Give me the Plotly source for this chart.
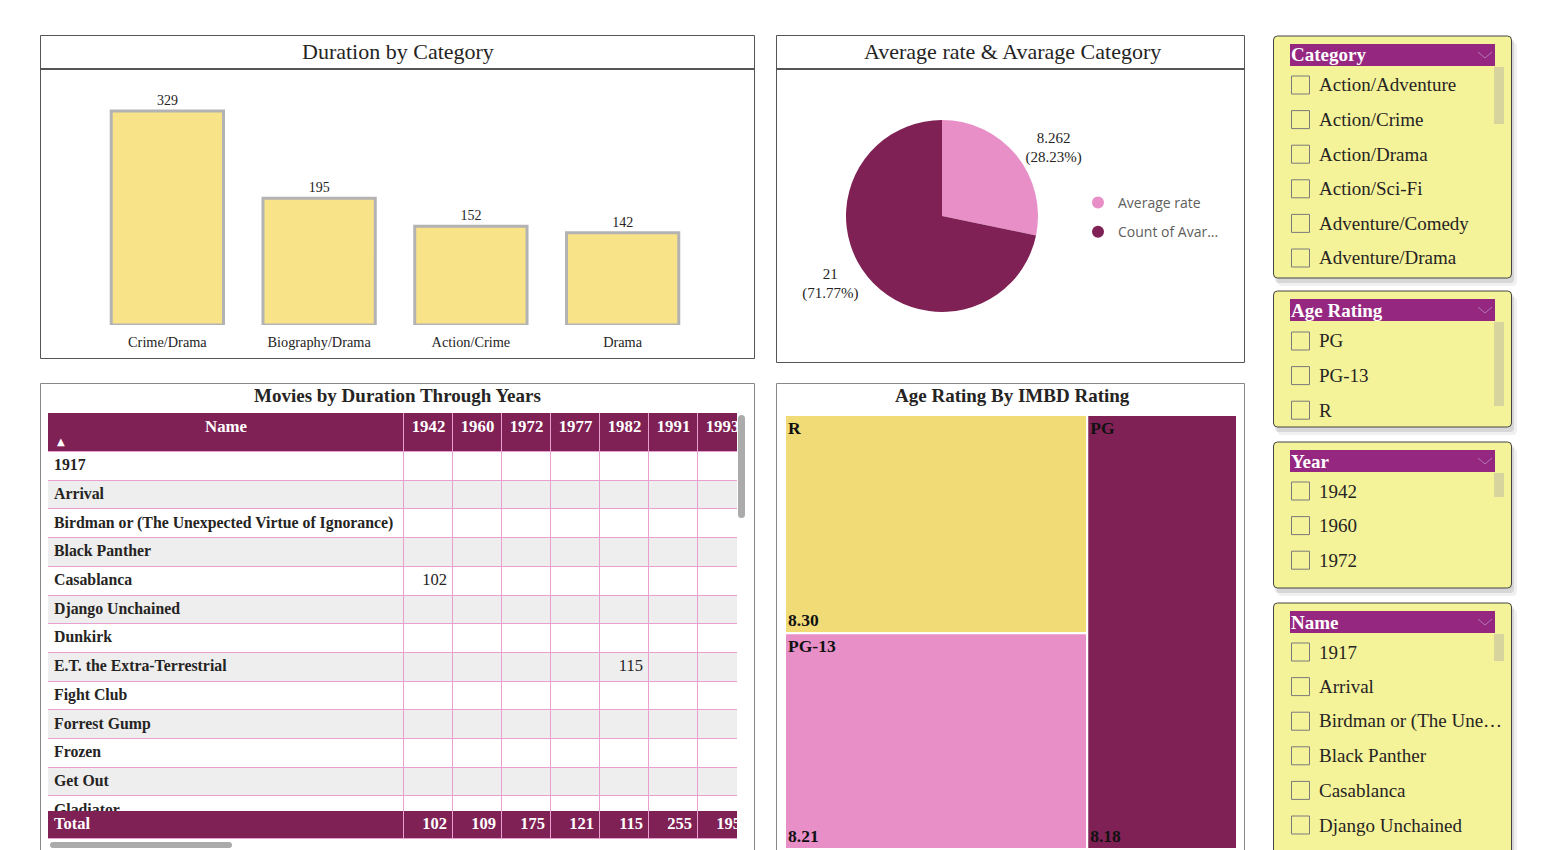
import plotly.graph_objects as go

W, H = 1547, 850
SERIF = "Liberation Serif, Times New Roman, serif"
SANS = "Open Sans, Noto Sans, sans-serif"

# ---------------- data ----------------
bar_categories = ["Crime/Drama", "Biography/Drama", "Action/Crime", "Drama"]
bar_durations = [329, 195, 152, 142]

pie_labels = ["Average rate", "Count of Avarage Category"]
pie_legend_names = ["Average rate", "Count of Avar..."]
pie_values = [8.262, 21]

table_names = ["1917", "Arrival", "Birdman or (The Unexpected Virtue of Ignorance)",
               "Black Panther", "Casablanca", "Django Unchained", "Dunkirk",
               "E.T. the Extra-Terrestrial", "Fight Club", "Forrest Gump", "Frozen",
               "Get Out", "Gladiator"]
table_years = ["1942", "1960", "1972", "1977", "1982", "1991", "1993"]
cell_movies = ["Casablanca", "E.T. the Extra-Terrestrial"]
cell_years = ["1942", "1982"]
cell_durations = [102, 115]
table_totals = [102, 109, 175, 121, 115, 255, 195]

age_ratings = ["R", "PG-13", "PG"]
avg_imdb = [8.30, 8.21, 8.18]

slicer_category = ["Action/Adventure", "Action/Crime", "Action/Drama", "Action/Sci-Fi",
                   "Adventure/Comedy", "Adventure/Drama"]
slicer_age = ["PG", "PG-13", "R"]
slicer_year = ["1942", "1960", "1972"]
slicer_name = ["1917", "Arrival", "Birdman or (The Une…", "Black Panther", "Casablanca",
               "Django Unchained"]

# ---------------- helpers ----------------
def X(px):
    return px / W

def Y(py):
    return 1 - py / H

PURPLE = "#7F2155"
PINK = "#E88FC7"
TXT = "#252423"

fig = go.Figure()

# ---- bar chart ----
fig.add_trace(go.Bar(
    x=bar_categories, y=bar_durations, width=0.74,
    marker=dict(color="#F8E388", line=dict(color="#B3B3B3", width=3)),
    text=bar_durations, textposition="outside", cliponaxis=False,
    textfont=dict(family=SERIF, size=14, color=TXT),
    xaxis="x", yaxis="y", showlegend=False))

# ---- pie ----
fig.add_trace(go.Pie(
    labels=pie_labels, values=pie_values, sort=False, direction="clockwise", rotation=0,
    marker=dict(colors=[PINK, PURPLE]), textposition="outside",
    texttemplate="%{value}<br>(%{percent:.2%})",
    textfont=dict(family=SERIF, size=15, color=TXT),
    domain=dict(x=[X(846), X(1038)], y=[Y(312), Y(120)]), showlegend=False))

for i, (nm, col) in enumerate(zip(pie_legend_names, [PINK, PURPLE])):
    fig.add_trace(go.Scatter(x=[None], y=[None], mode="markers", name=nm,
                             marker=dict(color=col, size=12, symbol="circle"),
                             legendgroup=f"g{i}", xaxis="x", yaxis="y"))

# ---- table (heatmap grid + text through axis scales) ----
col_px = [356] + [49] * len(table_years)
HEAD_H, ROW_H, PADX = 39, 28.7, 6
col_edges = [0]
for w in col_px:
    col_edges.append(col_edges[-1] + w)
row_edges = [0, HEAD_H] + [HEAD_H + ROW_H * (k + 1) for k in range(len(table_names))]
z = [[2] * len(col_px)] + [[i % 2] * len(col_px) for i in range(len(table_names))]
cscale = [[0, "#FFFFFF"], [0.25, "#FFFFFF"], [0.25, "#EEEEEE"], [0.75, "#EEEEEE"],
          [0.75, PURPLE], [1, PURPLE]]
fig.add_trace(go.Heatmap(x=col_edges, y=row_edges, z=z, colorscale=cscale, zmin=0, zmax=2,
                         showscale=False, xgap=1, ygap=1, hoverinfo="skip",
                         xaxis="x2", yaxis="y2"))
centers = [(col_edges[i] + col_edges[i + 1]) / 2 for i in range(len(col_px))]
fig.add_trace(go.Scatter(
    x=centers, y=[15] * len(centers), mode="text",
    text=["<b>Name</b>"] + [f"<b>{y}</b>" for y in table_years],
    textposition="middle center", textfont=dict(family=SERIF, size=16.8, color="white"),
    cliponaxis=True, hoverinfo="skip", showlegend=False, xaxis="x2", yaxis="y2"))
row_centers = [HEAD_H + ROW_H * (k + 0.5) for k in range(len(table_names))]
fig.add_trace(go.Scatter(
    x=[PADX] * len(table_names), y=row_centers, mode="text",
    text=[f"<b>{n}</b>" for n in table_names], textposition="middle right",
    textfont=dict(family=SERIF, size=15.8, color=TXT),
    cliponaxis=True, hoverinfo="skip", showlegend=False, xaxis="x2", yaxis="y2"))
num_x, num_y = [], []
for m, cy in zip(cell_movies, cell_years):
    ci = table_years.index(cy) + 1
    num_x.append(col_edges[ci + 1] - PADX)
    num_y.append(row_centers[table_names.index(m)])
fig.add_trace(go.Scatter(
    x=num_x, y=num_y, mode="text", text=[str(d) for d in cell_durations],
    textposition="middle left", textfont=dict(family=SERIF, size=16.5, color=TXT),
    cliponaxis=True, hoverinfo="skip", showlegend=False, xaxis="x2", yaxis="y2"))

# total row
fig.add_trace(go.Heatmap(x=col_edges, y=[0, 1], z=[[2] * len(col_px)], colorscale=cscale,
                         zmin=0, zmax=2, showscale=False, xgap=1, ygap=0, hoverinfo="skip",
                         xaxis="x3", yaxis="y3"))
fig.add_trace(go.Scatter(
    x=[PADX], y=[0.5], mode="text", text=["<b>Total</b>"], textposition="middle right",
    textfont=dict(family=SERIF, size=16.5, color="white"),
    cliponaxis=True, hoverinfo="skip", showlegend=False, xaxis="x3", yaxis="y3"))
fig.add_trace(go.Scatter(
    x=[col_edges[i + 2] - PADX for i in range(len(table_totals))], y=[0.5] * len(table_totals),
    mode="text", text=[f"<b>{t}</b>" for t in table_totals], textposition="middle left",
    textfont=dict(family=SERIF, size=16.5, color="white"),
    cliponaxis=True, hoverinfo="skip", showlegend=False, xaxis="x3", yaxis="y3"))

# ---- treemap (labels top-left) + overlay (values bottom-left) ----
tm_dom = dict(x=[X(785), X(1237)], y=[Y(849), Y(415)])
fig.add_trace(go.Treemap(
    labels=age_ratings, parents=[""] * len(age_ratings), values=avg_imdb, sort=True,
    marker=dict(colors=["#F0DB77", PINK, PURPLE], line=dict(color="white", width=2),
                pad=dict(t=0, l=0, r=0, b=0)),
    texttemplate="<b>%{label}</b>", textposition="top left",
    textfont=dict(family=SERIF, size=17.5, color="#111"),
    domain=tm_dom, pathbar=dict(visible=False), tiling=dict(pad=0)))
fig.add_trace(go.Treemap(
    labels=age_ratings, parents=[""] * len(age_ratings), values=avg_imdb, sort=True,
    marker=dict(colors=["rgba(0,0,0,0)"] * 3, line=dict(color="rgba(0,0,0,0)", width=2),
                pad=dict(t=0, l=0, r=0, b=0)),
    texttemplate="<b>%{value:.2f}</b>", textposition="bottom left",
    textfont=dict(family=SERIF, size=17.5, color="#111"),
    domain=tm_dom, pathbar=dict(visible=False), tiling=dict(pad=0), hoverinfo="skip"))

# ---------------- layout shapes / annotations ----------------
shapes = []
annotations = []

def rect(x0, y0, x1, y1, **kw):
    d = dict(type="rect", xref="paper", yref="paper", x0=X(x0), x1=X(x1), y0=Y(y0), y1=Y(y1))
    d.update(kw)
    shapes.append(d)

def line(x0, y0, x1, y1, color, width):
    shapes.append(dict(type="line", xref="paper", yref="paper", x0=X(x0), x1=X(x1),
                       y0=Y(y0), y1=Y(y1), line=dict(color=color, width=width)))

def rrect(x0, y0, x1, y1, r, **kw):
    p = (f"M {X(x0+r)},{Y(y0)} L {X(x1-r)},{Y(y0)} Q {X(x1)},{Y(y0)} {X(x1)},{Y(y0+r)} "
         f"L {X(x1)},{Y(y1-r)} Q {X(x1)},{Y(y1)} {X(x1-r)},{Y(y1)} "
         f"L {X(x0+r)},{Y(y1)} Q {X(x0)},{Y(y1)} {X(x0)},{Y(y1-r)} "
         f"L {X(x0)},{Y(y0+r)} Q {X(x0)},{Y(y0)} {X(x0+r)},{Y(y0)} Z")
    d = dict(type="path", xref="paper", yref="paper", path=p)
    d.update(kw)
    shapes.append(d)

def text(x, y, s, size, color=TXT, family=SERIF, xanchor="center", yanchor="middle"):
    annotations.append(dict(x=X(x), y=Y(y), xref="paper", yref="paper", text=s,
                            showarrow=False, xanchor=xanchor, yanchor=yanchor,
                            font=dict(family=family, size=size, color=color)))

# panel frames
rect(40.5, 35.5, 754.5, 358.5, line=dict(color="#555", width=1))
line(40.5, 69, 754.5, 69, "#555", 2)
rect(776.5, 35.5, 1244.5, 362.5, line=dict(color="#555", width=1))
line(776.5, 69, 1244.5, 69, "#555", 2)
rect(40.5, 383.5, 754.5, 860, line=dict(color="#888", width=1))
rect(776.5, 383.5, 1244.5, 860, line=dict(color="#888", width=1))

# pink grid lines behind the table bricks
rect(48, 413, 737, 839, fillcolor="#E8A0D0", line=dict(width=0), layer="below")
# table scrollbars
rrect(738, 415, 745, 518, 3.5, fillcolor="#ABABAB", line=dict(width=0))
rrect(50, 842, 232, 848, 3, fillcolor="#ABABAB", line=dict(width=0))

text(398, 51, "Duration by Category", 22)
text(1012, 51, "Average rate &amp; Avarage Category", 22)
text(398, 396, "<b>Movies by Duration Through Years</b>", 19)
text(1012, 396, "<b>Age Rating By IMBD Rating</b>", 19)
text(61, 441, "▲", 10, color="white", family="DejaVu Sans")

# slicers
def slicer(title, items, y0, y1, head_y0, first_item_y, thumb):
    rrect(1277, y0 + 6, 1517, y1 + 8, 5, fillcolor="rgba(0,0,0,0.06)", line=dict(width=0))
    rrect(1275, y0 + 3, 1514, y1 + 5, 4, fillcolor="rgba(0,0,0,0.10)", line=dict(width=0))
    rrect(1273.5, y0, 1511.5, y1, 4, fillcolor="#F5F39A", line=dict(color="#444", width=1))
    rect(1290, head_y0, 1495, head_y0 + 22, fillcolor="#952781", line=dict(width=0))
    text(1289, head_y0 + 11, f"<b>{title}</b>", 19, color="white", xanchor="left")
    shapes.append(dict(type="path", xref="paper", yref="paper",
                       path=f"M {X(1478)},{Y(head_y0+8)} L {X(1485)},{Y(head_y0+14)} L {X(1492)},{Y(head_y0+8)}",
                       line=dict(color="#B07AAE", width=1)))
    rect(1494, thumb[0], 1504, thumb[1], fillcolor="#D8D49E", line=dict(width=0))
    for k, it in enumerate(items):
        cy = first_item_y + k * 34.6
        rect(1291.5, cy - 9, 1309.5, cy + 9, line=dict(color="#7A7A7A", width=1))
        text(1317, cy, it, 19, xanchor="left")

slicer("Category", slicer_category, 36, 278, 44, 85, (67, 124))
slicer("Age Rating", slicer_age, 291, 427, 299, 341, (322, 406))
slicer("Year", slicer_year, 442, 588, 450, 491, (473, 497))
slicer("Name", slicer_name, 603, 870, 611, 652, (634, 661))

hidden = dict(visible=False, fixedrange=True, showgrid=False, zeroline=False)
fig.update_layout(
    width=W, height=H, autosize=False,
    margin=dict(l=0, r=0, t=0, b=0),
    paper_bgcolor="white", plot_bgcolor="rgba(0,0,0,0)",
    xaxis=dict(domain=[X(91.5), X(698.5)], range=[-0.5, 3.5], showgrid=False,
               zeroline=False, showline=False, ticks="outside", ticklen=4,
               tickcolor="rgba(0,0,0,0)", fixedrange=True,
               tickfont=dict(family=SERIF, size=14.3, color=TXT)),
    yaxis=dict(domain=[Y(325), Y(90)], range=[0, 361.3], visible=False, fixedrange=True),
    xaxis2=dict(domain=[X(48), X(737)], range=[0, 689], anchor="y2", **hidden),
    yaxis2=dict(domain=[Y(811), Y(413)], range=[811 - 413, 0], anchor="x2", **hidden),
    xaxis3=dict(domain=[X(48), X(737)], range=[0, 689], anchor="y3", **hidden),
    yaxis3=dict(domain=[Y(838), Y(811)], range=[0, 1], anchor="x3", **hidden),
    showlegend=True,
    legend=dict(x=X(1078), y=Y(187), xanchor="left", yanchor="top",
                font=dict(family=SANS, size=14, color="#605E5C"),
                bgcolor="rgba(0,0,0,0)", tracegroupgap=8, itemwidth=30),
    shapes=shapes, annotations=annotations,
)

fig.write_html("out.html")
